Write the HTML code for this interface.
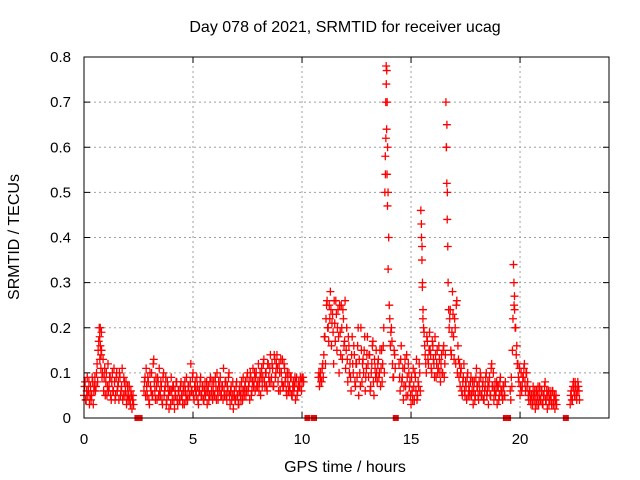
<!DOCTYPE html>
<html><head><meta charset="utf-8"><style>
body{margin:0;background:#fff}
svg{display:block;font-family:"Liberation Sans",sans-serif}
</style></head><body>
<svg id="c" width="640" height="480">
<text x="345" y="32" text-anchor="middle" font-size="16">Day 078 of 2021, SRMTID for receiver ucag</text>
<text x="345" y="472" text-anchor="middle" font-size="16">GPS time / hours</text>
<text transform="translate(19,237) rotate(-90)" text-anchor="middle" font-size="16">SRMTID / TECUs</text>
<g id="grid"></g><g id="pts"></g>
<rect x="84" y="57" width="525" height="361" fill="none" stroke="#000" stroke-width="1"/>
</svg>
<script>
const xTicks=[0,5,10,15,20];
const yTicks=[0,0.1,0.2,0.3,0.4,0.5,0.6,0.7,0.8];
const yTickLabels=["0","0.1","0.2","0.3","0.4","0.5","0.6","0.7","0.8"];
const times=[0.0,0.05,0.1,0.15,0.2,0.25,0.3,0.35,0.4,0.45,
0.5,0.55,0.6,0.65,0.7,0.72,0.75,0.78,0.8,0.85,
0.9,0.95,1.0,1.05,1.1,1.15,1.2,1.25,1.3,1.35,
1.4,1.45,1.5,1.55,1.6,1.65,1.7,1.75,1.8,1.85,
1.9,1.95,2.0,2.05,2.1,2.15,2.2,2.25,2.75,2.8,
2.85,2.9,2.95,3.0,3.05,3.1,3.15,3.2,3.25,3.3,
3.35,3.4,3.45,3.5,3.55,3.6,3.65,3.7,3.75,3.8,
3.85,3.9,3.95,4.0,4.05,4.1,4.15,4.2,4.25,4.3,
4.35,4.4,4.45,4.5,4.55,4.6,4.65,4.7,4.75,4.8,
4.85,4.9,4.95,5.0,5.05,5.1,5.15,5.2,5.25,5.3,
5.35,5.4,5.45,5.5,5.55,5.6,5.65,5.7,5.75,5.8,
5.85,5.9,5.95,6.0,6.05,6.1,6.15,6.2,6.25,6.3,
6.35,6.4,6.45,6.5,6.55,6.6,6.65,6.7,6.75,6.8,
6.85,6.9,6.95,7.0,7.05,7.1,7.15,7.2,7.25,7.3,
7.35,7.4,7.45,7.5,7.55,7.6,7.65,7.7,7.75,7.8,
7.85,7.9,7.95,8.0,8.05,8.1,8.15,8.2,8.25,8.3,
8.35,8.4,8.45,8.5,8.55,8.6,8.65,8.7,8.75,8.8,
8.85,8.9,8.95,9.0,9.05,9.1,9.15,9.2,9.25,9.3,
9.35,9.4,9.45,9.5,9.55,9.6,9.65,9.7,9.75,9.8,
9.85,9.9,9.95,10.0,10.05,10.75,10.8,10.85,10.9,10.95,
11.0,11.05,11.1,11.15,11.2,11.25,11.3,11.35,11.4,11.45,
11.5,11.55,11.6,11.65,11.7,11.75,11.8,11.85,11.9,11.95,
12.0,12.05,12.1,12.15,12.2,12.25,12.3,12.35,12.4,12.45,
12.5,12.55,12.6,12.65,12.7,12.75,12.8,12.85,12.9,12.95,
13.0,13.05,13.1,13.15,13.2,13.25,13.3,13.35,13.4,13.45,
13.5,13.55,13.6,13.65,13.7,13.75,13.8,13.82,13.84,13.86,
13.88,13.9,13.92,13.95,14.0,14.05,14.1,14.15,14.2,14.25,
14.45,14.5,14.55,14.6,14.65,14.7,14.75,14.8,14.85,14.9,
14.95,15.0,15.05,15.1,15.15,15.2,15.25,15.3,15.35,15.4,
15.45,15.48,15.5,15.52,15.55,15.6,15.65,15.7,15.75,15.8,
15.85,15.9,15.95,16.0,16.05,16.1,16.15,16.2,16.25,16.3,
16.35,16.4,16.45,16.5,16.55,16.6,16.62,16.64,16.66,16.7,
16.75,16.8,16.85,16.9,16.95,17.0,17.05,17.1,17.15,17.2,
17.25,17.3,17.35,17.4,17.45,17.5,17.55,17.6,17.65,17.7,
17.75,17.8,17.85,17.9,17.95,18.0,18.05,18.1,18.15,18.2,
18.25,18.3,18.35,18.4,18.45,18.5,18.55,18.6,18.65,18.7,
18.75,18.8,18.85,18.9,18.95,19.0,19.05,19.1,19.15,19.2,
19.25,19.3,19.55,19.6,19.65,19.7,19.72,19.75,19.8,19.85,
19.9,19.95,20.0,20.05,20.1,20.15,20.2,20.25,20.3,20.35,
20.4,20.45,20.5,20.55,20.6,20.65,20.7,20.75,20.8,20.85,
20.9,20.95,21.0,21.05,21.1,21.15,21.2,21.25,21.3,21.35,
21.4,21.45,21.5,21.55,21.6,21.65,22.3,22.35,22.4,22.45,
22.5,22.55,22.6,22.65,22.7];
const values=[.05,.08,.04,.09,.06,.03,.07,.05,.08,.06,
.09,.07,.12,.15,.2,.18,.16,.14,.19,.1,
.06,.11,.08,.05,.12,.07,.09,.04,.1,.06,
.08,.05,.1,.07,.04,.09,.06,.11,.05,.08,
.06,.03,.07,.05,.04,.06,.02,.05,.06,.09,
.11,.05,.08,.03,.07,.1,.05,.13,.06,.09,
.04,.08,.11,.05,.07,.03,.1,.06,.09,.04,
.07,.02,.06,.09,.04,.07,.02,.05,.08,.03,
.06,.04,.08,.05,.07,.03,.06,.09,.04,.07,
.05,.12,.06,.1,.04,.08,.05,.07,.03,.06,
.09,.05,.07,.04,.08,.06,.03,.07,.05,.09,
.06,.04,.08,.05,.07,.1,.04,.06,.09,.05,
.07,.11,.05,.08,.04,.06,.1,.03,.07,.05,
.02,.06,.04,.08,.05,.03,.07,.04,.06,.09,
.05,.08,.06,.1,.07,.04,.09,.06,.11,.08,
.06,.1,.07,.12,.08,.05,.11,.09,.13,.07,
.1,.06,.12,.08,.14,.09,.11,.07,.13,.1,
.14,.08,.12,.06,.1,.13,.07,.11,.09,.05,
.08,.1,.06,.09,.05,.08,.07,.04,.09,.06,
.08,.07,.09,.08,.09,.09,.07,.1,.08,.12,
.14,.18,.22,.26,.2,.25,.28,.16,.23,.12,
.21,.26,.15,.24,.1,.19,.25,.13,.22,.17,
.11,.2,.08,.16,.12,.06,.18,.1,.14,.07,
.12,.16,.05,.1,.2,.08,.13,.15,.06,.11,
.18,.09,.14,.07,.12,.17,.05,.11,.15,.08,
.13,.1,.07,.15,.12,.2,.5,.58,.7,.78,
.64,.54,.47,.33,.25,.16,.2,.12,.09,.14,
.12,.06,.16,.09,.04,.11,.07,.14,.05,.1,
.08,.03,.06,.11,.04,.09,.13,.05,.07,.1,
.46,.4,.35,.29,.24,.19,.14,.1,.17,.12,
.19,.14,.1,.16,.12,.18,.09,.15,.11,.13,
.08,.14,.1,.16,.12,.7,.6,.52,.44,.3,
.2,.24,.14,.28,.18,.22,.12,.26,.16,.09,
.07,.11,.05,.09,.06,.08,.04,.1,.07,.05,
.09,.06,.03,.08,.05,.11,.07,.04,.06,.09,
.05,.08,.04,.07,.1,.06,.03,.09,.05,.12,
.07,.04,.08,.06,.03,.07,.05,.09,.06,.04,
.07,.05,.06,.09,.15,.34,.3,.24,.2,.16,
.12,.08,.05,.1,.07,.09,.12,.06,.1,.08,
.04,.06,.03,.05,.07,.04,.02,.06,.05,.03,
.07,.04,.06,.03,.05,.08,.04,.02,.06,.04,
.05,.03,.06,.04,.02,.05,.03,.06,.04,.08,
.05,.07,.04,.08,.06];
const values2=[.07,.04,.06,.05,.08,.05,.04,.09,.03,.07,
.06,.1,.08,.17,.13,.2,.11,.15,.09,.13,
.09,.05,.1,.07,.06,.09,.05,.08,.06,.11,
.04,.09,.06,.08,.1,.05,.07,.04,.09,.05,
.08,.05,.04,.07,.03,.05,.04,.03,.08,.05,
.07,.09,.04,.1,.06,.05,.12,.08,.04,.07,
.09,.05,.06,.08,.04,.09,.05,.07,.03,.08,
.05,.06,.03,.06,.07,.04,.06,.08,.04,.06,
.04,.07,.05,.03,.06,.08,.04,.05,.07,.05,
.08,.06,.09,.05,.07,.06,.09,.04,.06,.08,
.05,.07,.04,.06,.05,.08,.06,.04,.08,.05,
.08,.06,.05,.09,.04,.06,.08,.07,.05,.07,
.04,.06,.08,.05,.07,.09,.05,.06,.04,.08,
.05,.04,.07,.05,.03,.06,.05,.08,.04,.06,
.07,.05,.09,.06,.08,.1,.05,.08,.07,.1,
.09,.07,.08,.06,.1,.09,.07,.12,.08,.1,
.07,.12,.09,.11,.08,.12,.07,.14,.09,.12,
.11,.06,.1,.13,.08,.07,.12,.08,.06,.1,
.06,.07,.09,.05,.07,.06,.09,.08,.05,.07,
.07,.09,.06,.09,.08,.1,.09,.08,.11,.09,
.18,.12,.25,.2,.17,.22,.24,.21,.19,.26,
.17,.23,.2,.18,.25,.14,.2,.24,.16,.26,
.15,.13,.18,.1,.09,.14,.12,.16,.08,.12,
.09,.2,.13,.07,.15,.12,.1,.18,.09,.14,
.12,.14,.06,.1,.16,.08,.13,.09,.1,.12,
.09,.15,.11,.08,.16,.1,.54,.62,.74,.77,
.7,.6,.5,.4,.22,.19,.17,.09,.15,.11,
.09,.13,.08,.11,.07,.13,.05,.09,.12,.07,
.05,.09,.04,.07,.1,.06,.04,.08,.12,.06,
.43,.38,.3,.22,.2,.16,.12,.18,.13,.15,
.15,.11,.17,.13,.09,.14,.12,.1,.16,.1,
.12,.1,.15,.09,.14,.6,.65,.5,.38,.24,
.22,.15,.19,.23,.13,.2,.25,.1,.13,.12,
.1,.06,.08,.12,.05,.07,.09,.05,.06,.08,
.05,.08,.06,.04,.09,.07,.05,.08,.1,.05,
.07,.04,.06,.09,.05,.08,.07,.05,.11,.07,
.1,.06,.05,.08,.07,.04,.08,.06,.05,.07,
.05,.08,.04,.07,.22,.25,.27,.2,.14,.12,
.09,.11,.07,.06,.09,.11,.08,.1,.07,.05,
.06,.04,.05,.03,.05,.06,.04,.03,.07,.05,
.04,.06,.03,.05,.07,.04,.06,.05,.03,.06,
.04,.06,.03,.05,.04,.03,.05,.04,.07,.06,
.08,.05,.06,.07,.04];
const gapTimes=[2.45,2.55,10.25,10.55,14.3,19.35,19.45,22.1];
const NS="http://www.w3.org/2000/svg";
const X0=84,X1=609,Y0=418,Y1=57,XMAX=24.08,YMAX=0.8;
function xs(t){return X0+(X1-X0)*t/XMAX;}
function ys(v){return Y0-(Y0-Y1)*v/YMAX;}
function mk(tag,a,p){const e=document.createElementNS(NS,tag);for(const k in a)e.setAttribute(k,a[k]);p.appendChild(e);return e;}
const grid=document.getElementById('grid'),pts=document.getElementById('pts');
yTicks.forEach((v,i)=>{const y=ys(v);
 if(i>0&&i<yTicks.length-1){const g=mk('line',{x1:X0,x2:X1,y1:y,y2:y,stroke:'#a0a0a0','stroke-dasharray':'2,3'},grid);
 
 }
 mk('line',{x1:X0,x2:X0+6,y1:y,y2:y,stroke:'#000'},grid);
 mk('line',{x1:X1-6,x2:X1,y1:y,y2:y,stroke:'#000'},grid);
 const t=mk('text',{x:71,y:y+5,'text-anchor':'end','font-size':15},grid);t.textContent=yTickLabels[i];
 
 
});
xTicks.forEach(v=>{const x=xs(v);
 if(v>0){const g=mk('line',{x1:x,x2:x,y1:Y0,y2:Y1,stroke:'#a0a0a0','stroke-dasharray':'2,3'},grid);
 
 }
 mk('line',{x1:x,x2:x,y1:Y0,y2:Y0-6,stroke:'#000'},grid);
 mk('line',{x1:x,x2:x,y1:Y1,y2:Y1+6,stroke:'#000'},grid);
 const t=mk('text',{x:x,y:444,'text-anchor':'middle','font-size':15},grid);t.textContent=String(v);
 
 
});
function plus(x,y){
 const p=mk('path',{d:`M${x-4},${y}H${x+4}M${x},${y-4}V${y+4}`,stroke:'#f00','stroke-width':1.3,fill:'none'},pts);
 
 
}
times.forEach((t,i)=>{plus(xs(t),ys(values[i]));});
times.forEach((t,i)=>{plus(xs(t+0.025),ys(values2[i]));});
gapTimes.forEach(t=>{const r=mk('rect',{x:xs(t)-3,y:Y0-3,width:6,height:6,fill:'#f00'},pts);
 
 
});
</script>
</body></html>
